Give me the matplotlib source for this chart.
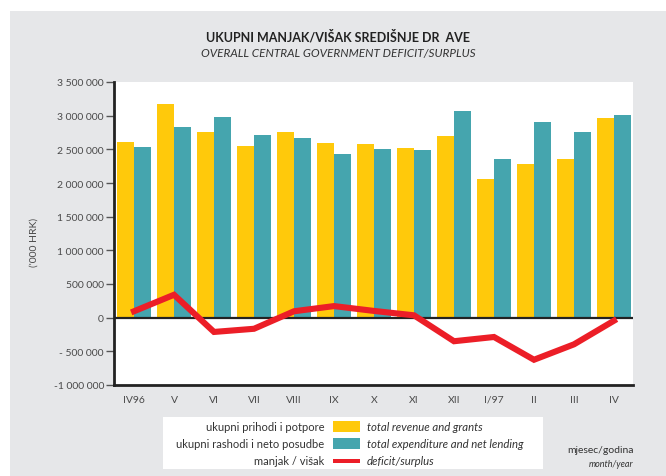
import matplotlib
matplotlib.use("Agg")
import matplotlib.pyplot as plt
from matplotlib.patches import Rectangle
import numpy as np

# data ('000 HRK)
months = ["IV96", "V", "VI", "VII", "VIII", "IX", "X", "XI", "XII", "I/97", "II", "III", "IV"]
revenue = [2607000, 3174000, 2757000, 2548000, 2757000, 2592000, 2578000,
           2518000, 2697000, 2055000, 2279000, 2354000, 2966000]
expenditure = [2533000, 2831000, 2980000, 2712000, 2667000, 2428000, 2503000,
               2488000, 3070000, 2354000, 2906000, 2757000, 3010000]
balance = [95000, 340000, -212000, -165000, 95000, 172000, 100000,
           35000, -350000, -287000, -625000, -396000, -45000]
yticks = [-1000000, -500000, 0, 500000, 1000000, 1500000, 2000000,
          2500000, 3000000, 3500000]
ytick_labels = ["-1 000 000", "- 500 000", "0", "500 000", "1 000 000", "1 500 000",
                "2 000 000", "2 500 000", "3 000 000", "3 500 000"]

YELLOW = "#FFC90B"
TEAL = "#45A5AE"
RED = "#EC1E27"
BG = "#E6E7E9"
TXT = "#4a4a4a"

plt.rcParams["font.family"] = ["Lato", "DejaVu Sans"]

W, H = 666, 477
fig = plt.figure(figsize=(W / 100, H / 100), dpi=100)

def fx(px):
    return px / W

def fy(py):
    return 1 - py / H

# grey panel
fig.patches.append(Rectangle((fx(10), 0), 1 - fx(10), fy(12), transform=fig.transFigure,
                             facecolor=BG, edgecolor="none", zorder=0))

ax = fig.add_axes([fx(113.6), fy(386), fx(633) - fx(113.6), fy(83) - fy(386)])
ax.set_zorder(3)
x = np.arange(len(months))
bw = 0.425
ax.bar(x - bw / 2, revenue, width=bw, color=YELLOW, zorder=2)
ax.bar(x + bw / 2, expenditure, width=bw, color=TEAL, zorder=2)
ax.axhline(0, color="#222222", lw=1.6, zorder=3)
ax.plot(x, balance, color=RED, lw=4.4, solid_joinstyle="miter", zorder=4)

ax.set_xlim(-0.51, 12.475)
ax.set_ylim(-1000000, 3500000)
ax.set_yticks(yticks)
ax.set_yticklabels(ytick_labels)
ax.set_xticks(x)
ax.set_xticklabels(months)
ax.tick_params(axis="y", direction="out", length=6, width=1, color="#555555",
               labelsize=7.5, labelcolor=TXT, pad=1)
ax.tick_params(axis="x", length=0, labelsize=7.5, labelcolor=TXT, pad=7)
for s in ["top", "right"]:
    ax.spines[s].set_visible(False)
for s in ["left", "bottom"]:
    ax.spines[s].set_linewidth(2)
    ax.spines[s].set_color("#222222")
ax.set_facecolor("white")

fig.text(fx(34), fy(242), "('000 HRK)", rotation=90, ha="center", va="center",
         fontsize=7.5, color=TXT)

# titles
fig.text(fx(338), fy(37), "UKUPNI MANJAK/VIŠAK SREDIŠNJE DR  AVE", ha="center", va="center",
         fontsize=9, fontweight="bold", color="#222222")
fig.text(fx(338), fy(53), "OVERALL CENTRAL GOVERNMENT DEFICIT/SURPLUS", ha="center",
         va="center", fontsize=8.5, style="italic", color="#333333")

# legend box
fig.patches.append(Rectangle((fx(162.7), fy(470)), fx(542.7) - fx(162.7), fy(418.3) - fy(470),
                             transform=fig.transFigure, facecolor="white",
                             edgecolor="none", zorder=1))
rows = [
    ("ukupni prihodi i potpore", "total revenue and grants", YELLOW, 11),
    ("ukupni rashodi i neto posudbe", "total expenditure and net lending", TEAL, 11),
    ("manjak / višak", "deficit/surplus", RED, 4),
]
for i, (hr, en, col, h) in enumerate(rows):
    yc = 427.7 + i * 17
    fig.text(fx(324), fy(yc), hr, ha="right", va="center", fontsize=8, color="#333333")
    fig.patches.append(Rectangle((fx(333), fy(yc + h / 2)), fx(360) - fx(333), h / H,
                                 transform=fig.transFigure, facecolor=col,
                                 edgecolor="none", zorder=2))
    fig.text(fx(367), fy(yc), en, ha="left", va="center", fontsize=8.2, style="italic",
             color="#333333")

fig.text(fx(634), fy(451), "mjesec/godina", ha="right", va="center", fontsize=7.5,
         color="#333333")
fig.text(fx(633), fy(465), "month/year", ha="right", va="center", fontsize=6.5,
         style="italic", color="#333333")

fig.savefig("out.png", dpi=100, facecolor="white")
